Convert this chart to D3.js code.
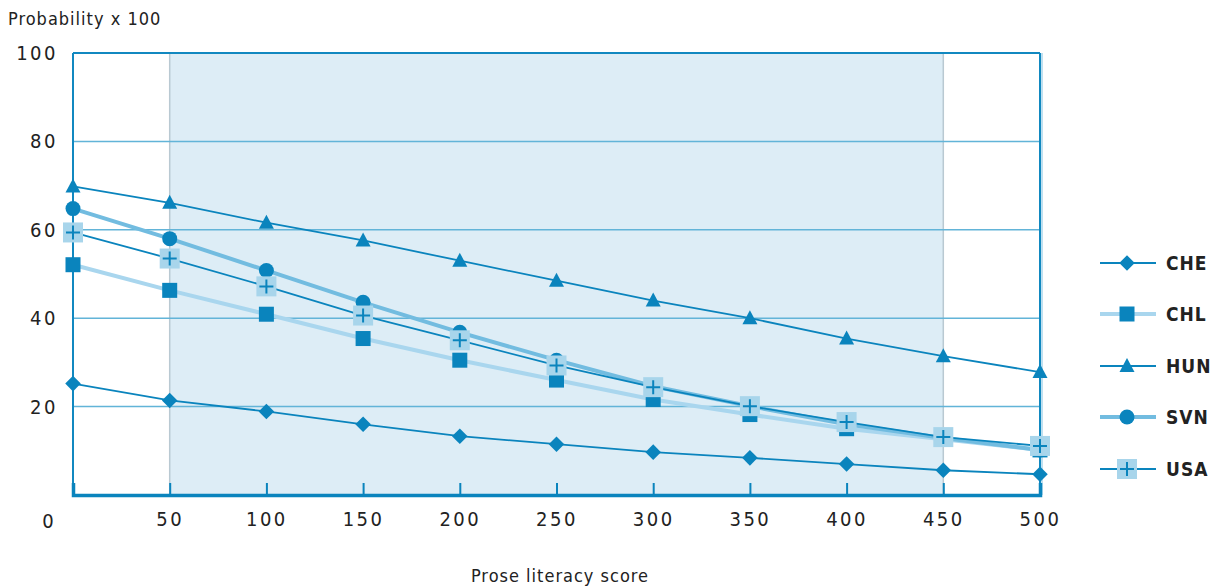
<!DOCTYPE html>
<html><head><meta charset="utf-8">
<script src="https://cdn.jsdelivr.net/npm/d3@7"></script>
<style>
body{margin:0;background:#fff;}
text{font-family:"DejaVu Sans Condensed","Liberation Sans Narrow","Liberation Sans",Arial,sans-serif;font-stretch:condensed;}
</style></head>
<body><svg id="c" width="1212" height="588"></svg>
<script>
const scores = [0,50,100,150,200,250,300,350,400,450,500];
const xTicks = [50,100,150,200,250,300,350,400,450,500];
const yTicks = [20,40,60,80,100];
const CHE = [25.2,21.4,18.9,16.0,13.3,11.5,9.7,8.4,7.0,5.6,4.7];
const CHL = [52.1,46.3,40.9,35.4,30.5,26.0,21.6,18.2,15.0,12.6,10.2];
const HUN = [69.8,66.1,61.6,57.6,53.0,48.5,44.0,40.0,35.4,31.4,27.8];
const SVN = [64.8,58.0,50.8,43.6,36.8,30.5,24.6,20.1,16.0,12.9,10.2];
const USA = [59.4,53.5,47.2,40.6,35.0,29.3,24.4,20.1,16.5,13.1,11.1];
const countries = ["CHE","CHL","HUN","SVN","USA"];

const dark = "#0a84bd", svnLine = "#72bce0", chlLine = "#a9d6ee", usaBox = "#a8d5eb";
const svg = d3.select("#c");
const x = d3.scaleLinear().domain([0,500]).range([73,1040]);
const y = d3.scaleLinear().domain([0,100]).range([495,53]);

// shaded band
svg.append("rect").attr("x",x(50)).attr("y",y(100)).attr("width",x(450)-x(50)).attr("height",y(0)-y(100)).attr("fill","#ddedf6");
[50,450].forEach(v=>svg.append("line").attr("x1",x(v)).attr("x2",x(v)).attr("y1",y(100)).attr("y2",y(0)).attr("stroke","#b9c9d2").attr("stroke-width",1.5));
// grid
[20,40,60,80].forEach(v=>svg.append("line").attr("x1",x(0)).attr("x2",x(500)).attr("y1",y(v)).attr("y2",y(v)).attr("stroke","#62b4d8").attr("stroke-width",1.5));
// frame
svg.append("line").attr("x1",x(500)+2).attr("x2",x(500)+2).attr("y1",y(100)).attr("y2",y(0)).attr("stroke","#bfe0f0").attr("stroke-width",2);
svg.append("line").attr("x1",x(0)).attr("x2",x(500)).attr("y1",y(100)).attr("y2",y(100)).attr("stroke","#1188c0").attr("stroke-width",2);
svg.append("line").attr("x1",x(0)).attr("x2",x(0)).attr("y1",y(100)).attr("y2",y(0)).attr("stroke","#1188c0").attr("stroke-width",2);
svg.append("line").attr("x1",x(500)).attr("x2",x(500)).attr("y1",y(100)).attr("y2",y(0)).attr("stroke","#1188c0").attr("stroke-width",2);

// x axis
const xa = svg.append("g").attr("transform",`translate(0,${y(0)})`)
  .call(d3.axisBottom(x).tickValues(xTicks).tickSize(-12).tickPadding(20));
xa.select(".domain").attr("stroke","#0a84bd").attr("stroke-width",3.5);
xa.selectAll(".tick line").attr("stroke","#0a84bd").attr("stroke-width",2);
xa.selectAll(".tick text").attr("font-size",20).attr("fill","#222").attr("letter-spacing",2.5).attr("dy","0.55em");
svg.append("text").attr("x",48).attr("y",528).attr("text-anchor","middle").attr("font-size",20).attr("fill","#222").text("0");
// y axis labels
const ya = svg.append("g").attr("transform",`translate(${x(0)},0)`)
  .call(d3.axisLeft(y).tickValues(yTicks).tickSize(0).tickPadding(15));
ya.select(".domain").remove();
ya.selectAll(".tick text").attr("font-size",20).attr("fill","#222").attr("letter-spacing",2.5);

svg.append("text").attr("x",8).attr("y",25).attr("font-size",18).attr("fill","#222").attr("letter-spacing",1).text("Probability x 100");
svg.append("text").attr("x",560).attr("y",582).attr("text-anchor","middle").attr("font-size",18).attr("fill","#222").attr("letter-spacing",1).text("Prose literacy score");

const series = {
  CHE:{v:CHE, line:dark, w:1.8, m:"diamond"},
  CHL:{v:CHL, line:chlLine, w:4, m:"square"},
  HUN:{v:HUN, line:dark, w:1.8, m:"triangle"},
  SVN:{v:SVN, line:svnLine, w:4, m:"circle"},
  USA:{v:USA, line:dark, w:1.8, m:"plus"}
};
const lineGen = d3.line().x((d,i)=>x(scores[i])).y(d=>y(d));
function marker(g, type, cx, cy){
  if(type==="diamond") g.append("rect").attr("x",-5.5).attr("y",-5.5).attr("width",11).attr("height",11).attr("transform",`translate(${cx},${cy}) rotate(45)`).attr("fill",dark);
  else if(type==="square") g.append("rect").attr("x",cx-7.5).attr("y",cy-7.5).attr("width",15).attr("height",15).attr("fill",dark);
  else if(type==="triangle") g.append("path").attr("d",`M${cx},${cy-8}L${cx+7.5},${cy+6}L${cx-7.5},${cy+6}Z`).attr("fill",dark);
  else if(type==="circle") g.append("circle").attr("cx",cx).attr("cy",cy).attr("r",7.5).attr("fill",dark);
  else if(type==="plus"){
    g.append("rect").attr("x",cx-10).attr("y",cy-10).attr("width",20).attr("height",20).attr("fill",usaBox);
    g.append("path").attr("d",`M${cx-7},${cy}H${cx+7}M${cx},${cy-7}V${cy+7}`).attr("stroke",dark).attr("stroke-width",2);
  }
}
const order = ["CHE","CHL","HUN","SVN","USA"];
order.forEach(k=>{
  const s = series[k];
  svg.append("path").datum(s.v).attr("d",lineGen).attr("fill","none").attr("stroke",s.line).attr("stroke-width",s.w);
});
order.forEach(k=>{
  const s = series[k]; const g = svg.append("g");
  s.v.forEach((d,i)=>marker(g,s.m,x(scores[i]),y(d)));
});

// legend
const ly = [263,314,366,417,469];
countries.forEach((k,i)=>{
  const s = series[k]; const g = svg.append("g");
  g.append("line").attr("x1",1100).attr("x2",1156).attr("y1",ly[i]).attr("y2",ly[i]).attr("stroke",s.line).attr("stroke-width",s.w===4?4:2);
  marker(g,s.m,1127,ly[i]);
  g.append("text").attr("x",1166).attr("y",ly[i]+7).attr("font-size",19).attr("font-weight","bold").attr("fill","#222").attr("letter-spacing",1).text(k);
});
</script></body></html>
